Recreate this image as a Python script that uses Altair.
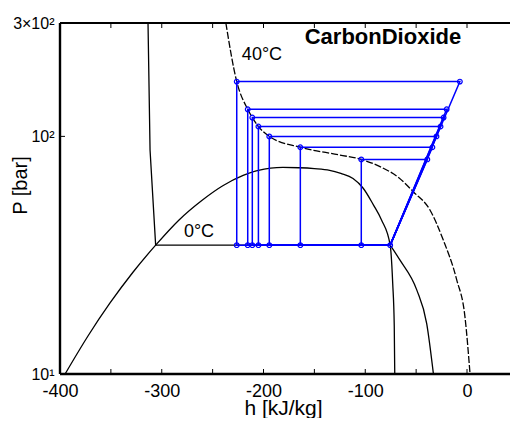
import altair as alt
import pandas as pd

# ---- data ----
# saturation dome (liquid side -> critical point -> vapour side)
dome_h = [-395, -372.5, -351, -328.3, -306, -283, -260, -240, -220, -205, -193, -181,
          -165, -150, -135, -124, -112, -102, -92, -84, -75.5, -73, -71.5, -71]
dome_p = [10, 14.45, 19.85, 26.8, 34.85, 44.5, 54.0, 62.0, 68.5, 72.0, 73.5, 74.0,
          73.8, 73.2, 72.0, 69.8, 66.5, 60.5, 51.5, 44.5, 34.85, 24.0, 16.0, 10]

# 0 °C isotherm: liquid + two-phase part, then vapour part
iso0_liq_h = [-313.5, -311.5, -306, -75.5]
iso0_liq_p = [300, 87.7, 34.85, 34.85]
iso0_vap_h = [-75.5, -66, -49.4, -39.6, -33]
iso0_vap_p = [34.85, 30.2, 22.6, 16.3, 10]

# 40 °C isotherm (dashed)
iso40_h = [-237, -226.3, -215.5, -211, -205, -194.3, -163.8, -125, -104, -85.5,
           -67, -52.8, -36.4, -23.3, -10.1, -2, 3]
iso40_p = [300, 170, 130, 120, 110, 100, 90, 83.5, 80, 74.6,
           67, 58.5, 49, 36.6, 24.9, 17.4, 10]

# refrigeration cycles
p_evap = 34.85
h_evap_out = -75.5
p_high = [170, 130, 120, 110, 100, 90, 80]
h_gc_out = [-226.3, -215.5, -211, -205, -194.3, -163.8, -103.9]
h_comp_out = [-7, -20, -23, -26, -30, -34, -39]

# axis ticks / labels
x_domain = [-400, 42.26]
y_domain = [10, 300]
x_label_values = [-400, -300, -200, -100, 0]
y_label_values = [10, 100, 300]
x_minor_ticks = [-350, -300, -250, -200, -150, -100, -50, 0]
y_minor_ticks = [100]

# annotations
ann_text = ["CarbonDioxide", "40°C", "0°C"]
ann_h = [-82.6, -201.5, -263.4]
ann_p = [262, 220, 39.6]

# ---- tables ----
def curve_rows(name, hs, ps):
    return [{"curve": name, "o": i, "h": h, "p": p} for i, (h, p) in enumerate(zip(hs, ps))]

smooth_df = pd.DataFrame(curve_rows("dome", dome_h, dome_p)
                         + curve_rows("iso0v", iso0_vap_h, iso0_vap_p))
linear_df = pd.DataFrame(curve_rows("iso0l", iso0_liq_h, iso0_liq_p))
dash_df = pd.DataFrame(curve_rows("iso40", iso40_h, iso40_p))

cyc_rows = []
pt_rows = [{"h": h_evap_out, "p": p_evap}]
for k in range(len(p_high)):
    path = [(h_evap_out, p_evap), (h_comp_out[k], p_high[k]), (h_gc_out[k], p_high[k]),
            (h_gc_out[k], p_evap), (h_evap_out, p_evap)]
    for i, (h, p) in enumerate(path):
        cyc_rows.append({"cycle": k, "o": i, "h": h, "p": p})
    pt_rows += [{"h": h_comp_out[k], "p": p_high[k]},
                {"h": h_gc_out[k], "p": p_high[k]},
                {"h": h_gc_out[k], "p": p_evap}]
cyc_df = pd.DataFrame(cyc_rows)
pt_df = pd.DataFrame(pt_rows)

ann_df = pd.DataFrame({"label": ann_text, "h": ann_h, "p": ann_p})

FONT = "Liberation Sans"
W, H = 450, 351

xscale = alt.Scale(domain=x_domain, nice=False, zero=False)
yscale = alt.Scale(type="log", domain=y_domain, nice=False)

xaxis = alt.Axis(values=x_label_values, title="h [kJ/kg]", labelFlush=False,
                 labelExpr="'' + datum.value",
                 labelFontSize=18, labelPadding=8, titleFontSize=21,
                 titleFontWeight="normal", titleX=223, titleY=40,
                 titleBaseline="alphabetic",
                 labelFont=FONT, titleFont=FONT, ticks=False, domain=False,
                 grid=False, labelColor="black", titleColor="black")
yaxis = alt.Axis(values=y_label_values, title="P [bar]", labelFlush=False,
                 labelExpr="datum.value == 10 ? '10¹' : (datum.value == 100 ? '10²' : '3×10²')",
                 labelFontSize=16, labelPadding=6, titleFontSize=20,
                 titleFontWeight="normal", titleX=-34, titleY=162,
                 titleBaseline="alphabetic",
                 labelFont=FONT, titleFont=FONT, ticks=False, domain=False,
                 grid=False, labelColor="black", titleColor="black")

X = alt.X("h:Q", scale=xscale, axis=xaxis)
Y = alt.Y("p:Q", scale=yscale, axis=yaxis)

smooth = alt.Chart(smooth_df).mark_line(color="black", strokeWidth=1.3, clip=True,
                                        interpolate="monotone").encode(
    x=X, y=Y, detail="curve:N", order="o:Q")
linear = alt.Chart(linear_df).mark_line(color="black", strokeWidth=1.3, clip=True).encode(
    x=X, y=Y, order="o:Q")
dashed = alt.Chart(dash_df).mark_line(color="black", strokeWidth=1.3, clip=True,
                                      interpolate="monotone",
                                      strokeDash=[7, 2]).encode(x=X, y=Y, order="o:Q")
cycles = alt.Chart(cyc_df).mark_line(color="#0000ff", strokeWidth=1.5, clip=True).encode(
    x=X, y=Y, detail="cycle:N", order="o:Q")
points = alt.Chart(pt_df).mark_point(shape="circle", filled=False, size=22,
                                     color="#0000ff", strokeWidth=1.2, opacity=1).encode(x=X, y=Y)

title_txt = alt.Chart(ann_df[ann_df.label == "CarbonDioxide"]).mark_text(
    font=FONT, fontSize=22, fontWeight="bold", color="black").encode(x=X, y=Y, text="label:N")
iso_txt = alt.Chart(ann_df[ann_df.label != "CarbonDioxide"]).mark_text(
    font=FONT, fontSize=18, color="black").encode(x=X, y=Y, text="label:N")

xt_df = pd.DataFrame({"h": x_minor_ticks})
yt_df = pd.DataFrame({"p": y_minor_ticks})
xt_bot = alt.Chart(xt_df).mark_rule(color="black", strokeWidth=1).encode(
    x=X, y=alt.value(H - 5), y2=alt.value(H))
xt_top = alt.Chart(xt_df).mark_rule(color="black", strokeWidth=1).encode(
    x=X, y=alt.value(0), y2=alt.value(5))
yt_left = alt.Chart(yt_df).mark_rule(color="black", strokeWidth=1).encode(
    y=Y, x=alt.value(0), x2=alt.value(5))

# frame: left, top and bottom edges (the right edge lies beyond the picture)
one = pd.DataFrame({"k": [0]})
frame_left = alt.Chart(one).mark_rule(color="black", strokeWidth=2.4).encode(
    x=alt.value(0), y=alt.value(0), y2=alt.value(H))
frame_top = alt.Chart(one).mark_rule(color="black", strokeWidth=2.2).encode(
    x=alt.value(0), x2=alt.value(W), y=alt.value(0))
frame_bot = alt.Chart(one).mark_rule(color="black", strokeWidth=2.4).encode(
    x=alt.value(0), x2=alt.value(W), y=alt.value(H))

chart = alt.layer(smooth, linear, dashed, cycles, points, title_txt, iso_txt,
                  xt_bot, xt_top, yt_left, frame_left, frame_top, frame_bot).properties(
    width=W, height=H,
    padding={"left": 52, "top": 15, "right": 0, "bottom": 44},
    autosize=alt.AutoSizeParams(type="none"),
    background="white",
).configure_view(stroke=None)

chart.save("out.html", embed_options={"renderer": "svg", "actions": False})
